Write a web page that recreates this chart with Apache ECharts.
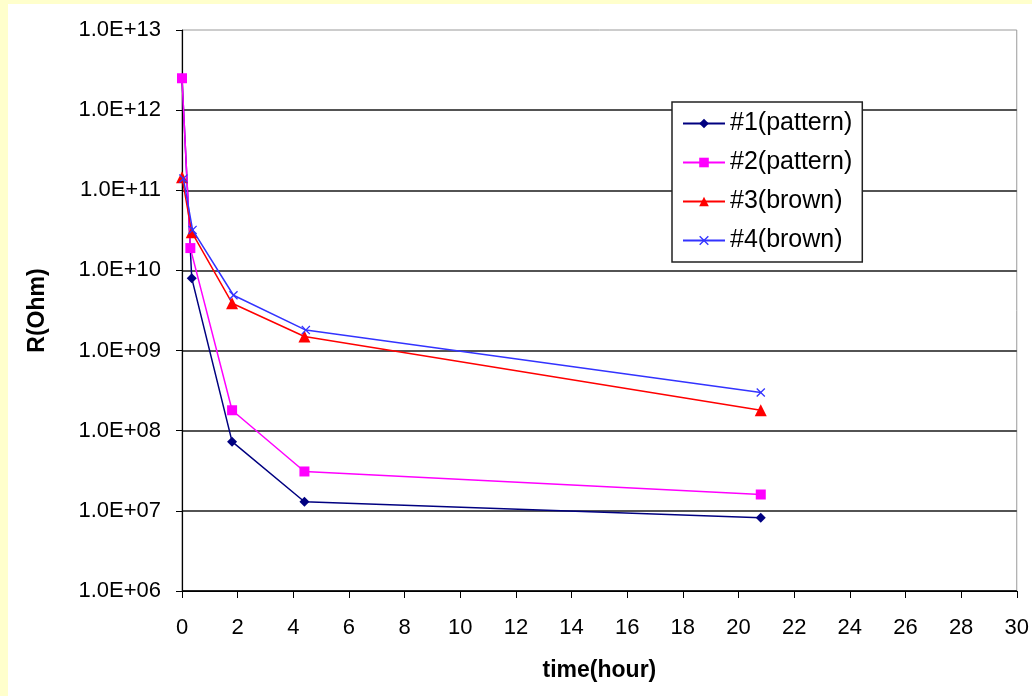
<!DOCTYPE html>
<html>
<head>
<meta charset="utf-8">
<script src="https://cdn.jsdelivr.net/npm/echarts@6/dist/echarts.min.js"></script>
<style>
  html, body { margin: 0; padding: 0; background: #ffffcc; }
  #white { position: absolute; left: 8px; top: 4px; width: 1024px; height: 692px; background: #ffffff; }
  #chart { position: absolute; left: 0; top: 0; width: 1032px; height: 696px; }
</style>
</head>
<body>
<div id="white"></div>
<div id="chart"></div>
<script>
// time (hours) and resistance (Ohm) per sample
const names = ['#1(pattern)', '#2(pattern)', '#3(brown)', '#4(brown)'];
const time1 = [0, 0.35, 1.8, 4.4, 20.8];
const r1 = [2.5e12, 8.0e9, 7.3e7, 1.3e7, 8.2e6];
const time2 = [0, 0.3, 1.8, 4.4, 20.8];
const r2 = [2.5e12, 1.9e10, 1.8e8, 3.1e7, 1.6e7];
const time3 = [0, 0.35, 1.8, 4.4, 20.8];
const r3 = [1.45e11, 3.0e10, 3.9e9, 1.5e9, 1.8e8];
const time4 = [0.05, 0.38, 1.85, 4.45, 20.8];
const r4 = [1.4e11, 3.2e10, 4.9e9, 1.8e9, 3.0e8];
const xTicks = [0, 30, 2];          // min, max, step
const yExpRange = [6, 13];          // 1.0E+06 .. 1.0E+13

const colors = ['#000080', '#ff00ff', '#ff0000', '#3333ff'];
const symbols = [
  'diamond',
  'rect',
  'triangle',
  'path://M0,1L1,0L5,4L9,0L10,1L6,5L10,9L9,10L5,6L1,10L0,9L4,5Z'
];
const symbolSizes = [10, 10, 12, 9];
const times = [time1, time2, time3, time4];
const values = [r1, r2, r3, r4];

const font = 'Arial, "Liberation Sans", sans-serif';

const chart = echarts.init(document.getElementById('chart'), null, { renderer: 'canvas' });

chart.setOption({
  backgroundColor: 'transparent',
  animation: false,
  grid: {
    left: 182, right: 11, top: 30, bottom: 105,
    show: true, borderColor: '#9a9a9a', borderWidth: 1, backgroundColor: 'transparent'
  },
  legend: {
    orient: 'vertical',
    left: 672, top: 102,
    padding: [9, 10, 9, 10],
    itemWidth: 42, itemHeight: 12, itemGap: 14,
    backgroundColor: '#ffffff',
    borderColor: '#222222', borderWidth: 1.5,
    textStyle: { fontFamily: font, fontSize: 25, color: '#000000', lineHeight: 25 },
    data: names
  },
  xAxis: {
    type: 'value',
    min: xTicks[0], max: xTicks[1], interval: xTicks[2],
    name: 'time(hour)', nameLocation: 'middle', nameGap: 68,
    nameTextStyle: { fontFamily: font, fontSize: 23, fontWeight: 'bold', color: '#000000' },
    axisLine: { show: true, lineStyle: { color: '#000000', width: 1.2 } },
    axisTick: { show: true, inside: false, length: 7, lineStyle: { color: '#000000' } },
    axisLabel: { fontFamily: font, fontSize: 22, color: '#000000', margin: 26 },
    splitLine: { show: false }
  },
  yAxis: {
    type: 'log', logBase: 10,
    min: Math.pow(10, yExpRange[0]), max: Math.pow(10, yExpRange[1]),
    splitNumber: yExpRange[1] - yExpRange[0],
    name: 'R(Ohm)', nameLocation: 'middle', nameGap: 133, nameRotate: 90,
    nameTextStyle: { fontFamily: font, fontSize: 23, fontWeight: 'bold', color: '#000000' },
    axisLine: { show: true, lineStyle: { color: '#000000', width: 1.2 } },
    axisTick: { show: true, inside: false, length: 6, lineStyle: { color: '#000000' } },
    minorTick: { show: false },
    axisLabel: {
      fontFamily: font, fontSize: 22, color: '#000000', margin: 21,
      formatter: function (v) {
        const e = Math.round(Math.log10(v));
        return '1.0E+' + (e < 10 ? '0' + e : '' + e);
      }
    },
    splitLine: { show: true, showMaxLine: false, lineStyle: { color: '#1a1a1a', width: 1.5 } }
  },
  series: names.map(function (n, i) {
    return {
      name: n,
      type: 'line',
      data: times[i].map(function (t, j) { return [t, values[i][j]]; }),
      symbol: symbols[i],
      symbolSize: symbolSizes[i],
      showAllSymbol: true,
      lineStyle: { color: colors[i], width: 1.5 },
      itemStyle: { color: colors[i], borderWidth: 0 },
      z: 3 + i
    };
  })
});
</script>
</body>
</html>
